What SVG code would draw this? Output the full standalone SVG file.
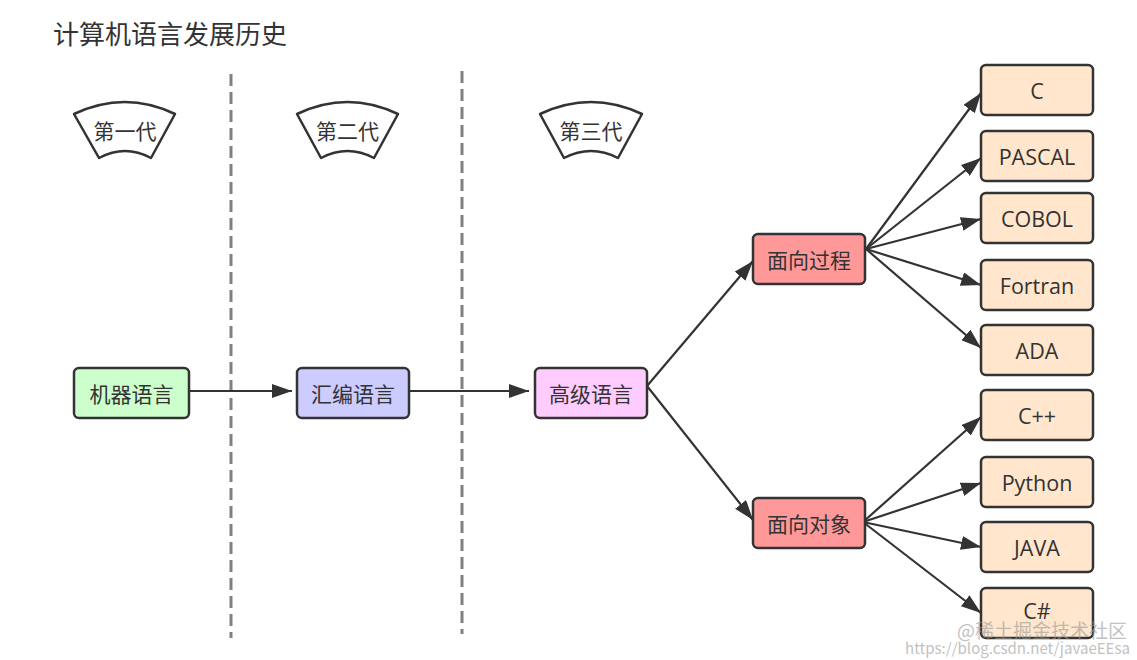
<svg xmlns="http://www.w3.org/2000/svg" width="1137" height="660" viewBox="0 0 1137 660">
<style>
.t{font-family:"Noto Sans CJK SC","Open Sans",sans-serif;font-size:21px;fill:#333;text-anchor:middle;dominant-baseline:central}
.l{font-family:"Open Sans","Noto Sans CJK SC",sans-serif;font-size:21.5px;fill:#333;text-anchor:middle;dominant-baseline:central}
.box{stroke:#333;stroke-width:2.5}
.fan{fill:#fff;stroke:#333;stroke-width:2.5;stroke-linejoin:round}
.dash{stroke:#808080;stroke-width:3;stroke-dasharray:12 6;fill:none}
.edge{stroke:#333;stroke-width:2.2;fill:none;marker-end:url(#arr)}
.wm{font-family:"Noto Sans CJK SC",sans-serif;fill:#999;opacity:0.6}
</style>
<defs>
<marker id="arr" viewBox="0 0 20 14" refX="20" refY="7" markerWidth="20" markerHeight="14" markerUnits="userSpaceOnUse" orient="auto">
<path d="M0,0 L20,7 L0,14 Z" fill="#333"/>
</marker>
</defs>
<rect width="1137" height="660" fill="#fff"/>
<text x="53" y="32" style="font-family:'Noto Sans CJK SC',sans-serif;font-size:26px;fill:#333;dominant-baseline:central">计算机语言发展历史</text>

<g id="dividers">
<line class="dash" x1="231" y1="74" x2="231" y2="638"/>
<line class="dash" x1="462" y1="71" x2="462" y2="634"/>
</g>

<g id="gen1">
<path class="fan" d="M74,114 Q125,90 175,114 L151,158 Q125,144 99,158 Z"/>
<text class="t" x="125" y="130">第一代</text>
</g>
<g id="gen2">
<path class="fan" d="M297,114 Q347.5,90 398,114 L374,158 Q347.5,144 321,158 Z"/>
<text class="t" x="347.5" y="130">第二代</text>
</g>
<g id="gen3">
<path class="fan" d="M540,114 Q591,90 642,114 L618,158 Q591,144 564,158 Z"/>
<text class="t" x="591" y="130">第三代</text>
</g>

<g id="connectors">
<line class="edge" x1="190" y1="391" x2="292" y2="391"/>
<line class="edge" x1="410" y1="391" x2="529" y2="391"/>
<line class="edge" x1="647" y1="386" x2="753" y2="261"/>
<line class="edge" x1="647" y1="386" x2="753" y2="520"/>
<line class="edge" x1="866" y1="249" x2="981" y2="93"/>
<line class="edge" x1="866" y1="249" x2="981" y2="158"/>
<line class="edge" x1="866" y1="249" x2="981" y2="219"/>
<line class="edge" x1="866" y1="249" x2="981" y2="285"/>
<line class="edge" x1="866" y1="249" x2="981" y2="348"/>
<line class="edge" x1="863" y1="522" x2="981" y2="417"/>
<line class="edge" x1="863" y1="522" x2="981" y2="483"/>
<line class="edge" x1="863" y1="522" x2="981" y2="547"/>
<line class="edge" x1="863" y1="522" x2="981" y2="613"/>
</g>

<g id="n-machine"><rect class="box" x="74" y="368" width="115" height="50" rx="5" fill="#CCFFCC"/><text class="t" x="131.5" y="393">机器语言</text></g>
<g id="n-asm"><rect class="box" x="297" y="368" width="112" height="50" rx="5" fill="#CCCCFF"/><text class="t" x="353" y="393">汇编语言</text></g>
<g id="n-high"><rect class="box" x="535" y="368" width="112" height="50" rx="5" fill="#FFCCFF"/><text class="t" x="591" y="393">高级语言</text></g>
<g id="n-proc"><rect class="box" x="753" y="234" width="112" height="50" rx="5" fill="#FF9999"/><text class="t" x="809" y="259">面向过程</text></g>
<g id="n-oop"><rect class="box" x="753" y="498" width="112" height="50" rx="5" fill="#FF9999"/><text class="t" x="809" y="523">面向对象</text></g>

<g id="n-c"><rect class="box" x="981" y="65" width="112" height="50" rx="5" fill="#FFE6CC"/><text class="l" x="1037" y="90">C</text></g>
<g id="n-pascal"><rect class="box" x="981" y="131" width="112" height="50" rx="5" fill="#FFE6CC"/><text class="l" x="1037" y="156">PASCAL</text></g>
<g id="n-cobol"><rect class="box" x="981" y="193" width="112" height="50" rx="5" fill="#FFE6CC"/><text class="l" x="1037" y="218">COBOL</text></g>
<g id="n-fortran"><rect class="box" x="981" y="260" width="112" height="50" rx="5" fill="#FFE6CC"/><text class="l" x="1037" y="285">Fortran</text></g>
<g id="n-ada"><rect class="box" x="981" y="325" width="112" height="50" rx="5" fill="#FFE6CC"/><text class="l" x="1037" y="350">ADA</text></g>
<g id="n-cpp"><rect class="box" x="981" y="390" width="112" height="50" rx="5" fill="#FFE6CC"/><text class="l" x="1037" y="415">C++</text></g>
<g id="n-python"><rect class="box" x="981" y="457" width="112" height="50" rx="5" fill="#FFE6CC"/><text class="l" x="1037" y="482">Python</text></g>
<g id="n-java"><rect class="box" x="981" y="522" width="112" height="50" rx="5" fill="#FFE6CC"/><text class="l" x="1037" y="547">JAVA</text></g>
<g id="n-csharp"><rect class="box" x="981" y="588" width="112" height="50" rx="5" fill="#FFE6CC"/><text class="l" x="1037" y="610">C#</text></g>

<g id="watermark">
<text class="wm" x="957" y="638" font-size="19">@稀土掘金技术社区</text>
<text class="wm" x="905" y="654" font-size="15" opacity="0.35" textLength="225" lengthAdjust="spacingAndGlyphs">https://blog.csdn.net/javaeEEsa</text>
</g>
</svg>
